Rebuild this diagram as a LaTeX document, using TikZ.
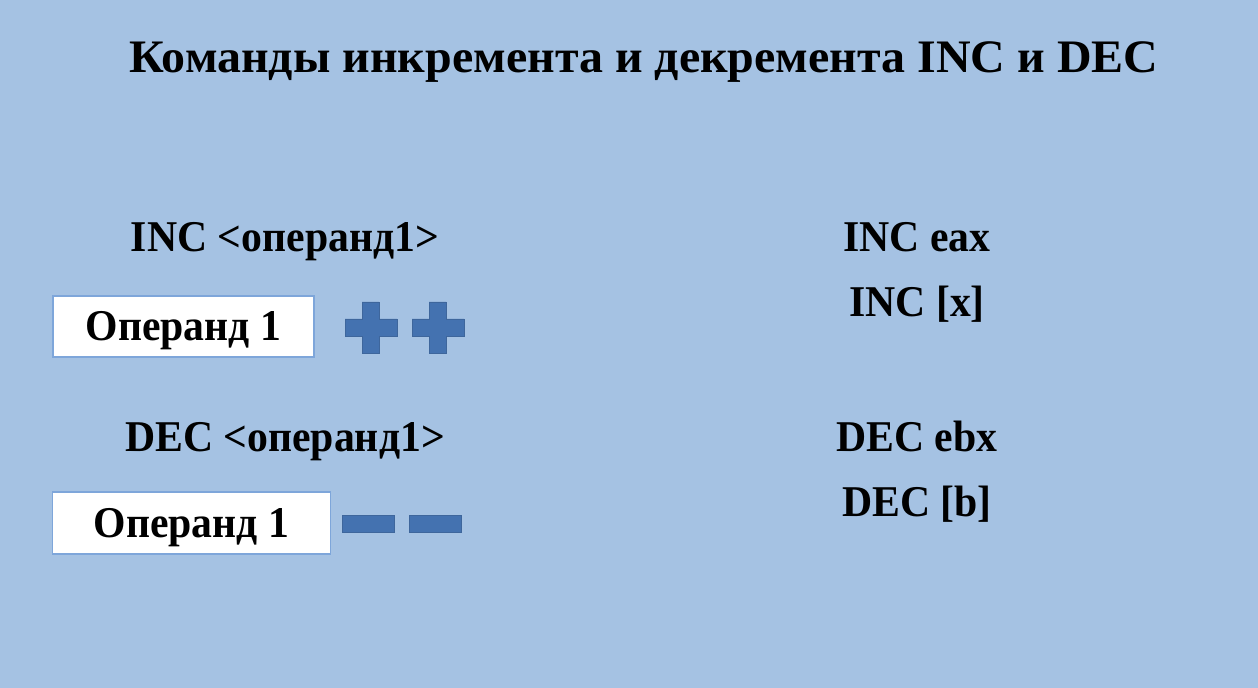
\documentclass[tikz,border=0pt]{standalone}
\usepackage{fontspec}
\setmainfont{Liberation Serif}
\newfontfamily\slidetitlefont[FakeStretch=1.03]{Liberation Serif}
\newfontfamily\slidebodyfont[FakeStretch=0.95]{Liberation Serif}
\usepackage{tikz}
\definecolor{SlideBlue}{HTML}{A5C2E3}
\definecolor{SignBlue}{HTML}{4472B0}
\definecolor{SignEdge}{HTML}{3E669C}
\definecolor{BoxEdge}{HTML}{7EA6DA}
\tikzset{
  titletext/.style={font=\fontsize{26.5}{30}\slidetitlefont\bfseries,inner sep=0pt,anchor=base},
  cmdtext/.style={font=\fontsize{25}{29}\slidebodyfont\bfseries,inner sep=0pt,anchor=base},
  opbox/.style={draw=BoxEdge,fill=white,line width=0.8pt,inner sep=0pt,
    text height=16.4pt,text depth=0pt,
    font=\fontsize{25}{29}\slidebodyfont\bfseries},
  signshape/.style={fill=SignBlue,draw=SignEdge,line width=0.5pt},
}
\begin{document}
\begin{tikzpicture}[x=0.02cm,y=-0.02cm]
  \fill[SlideBlue] (0,0) rectangle (1258,688);
  \useasboundingbox (0,0) rectangle (1258,688);
  \node[titletext] (title) at (644,73) {Команды инкремента и декремента INC и DEC};
  % left column
  \node[cmdtext] (incsyn) at (285,252) {INC <операнд1>};
  \node[opbox,minimum width=5.22cm,minimum height=1.22cm] (incop) at (183.5,326.5) {Операнд 1};
  \node[cmdtext] (decsyn) at (285,452) {DEC <операнд1>};
  \node[opbox,minimum width=5.56cm,minimum height=1.24cm] (decop) at (191.5,523) {Операнд 1};
  % plus signs
  \foreach \px in {345,412}
    \draw[signshape] (\px+17,302) -- (\px+34,302) -- (\px+34,319) -- (\px+52,319)
      -- (\px+52,336) -- (\px+34,336) -- (\px+34,353) -- (\px+17,353)
      -- (\px+17,336) -- (\px,336) -- (\px,319) -- (\px+17,319) -- cycle;
  % minus signs
  \foreach \px in {342,409}
    \draw[signshape] (\px,515) rectangle (\px+52,532);
  % right column
  \node[cmdtext] (inceax) at (917,252) {INC eax};
  \node[cmdtext] (incx) at (917,317) {INC [x]};
  \node[cmdtext] (decebx) at (917,452) {DEC ebx};
  \node[cmdtext] (decb) at (917,517) {DEC [b]};
\end{tikzpicture}
\end{document}
